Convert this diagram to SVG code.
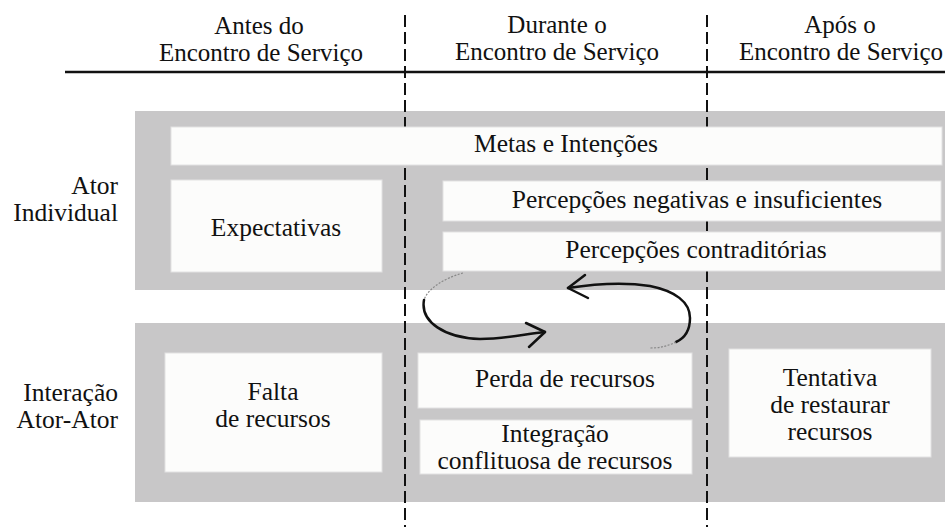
<svg xmlns="http://www.w3.org/2000/svg" width="945" height="527" viewBox="0 0 945 527">
<style>
text{font-family:"Liberation Serif","Times New Roman",serif;font-size:25.5px;fill:#111;text-anchor:middle}
.hdr{font-size:25px}
.band{fill:#c8c7c8}
.box{fill:#fcfcfb;stroke:#e2e2e2;stroke-width:1}
.dash{stroke:#111;stroke-width:2;stroke-dasharray:12 5;fill:none}
.loop{fill:none;stroke:#111;stroke-width:2.5;stroke-linecap:round;stroke-linejoin:round}
.faint{fill:none;stroke:#888;stroke-width:1.2;stroke-dasharray:2 1.5}
.lbl{text-anchor:end}
</style>
<rect width="945" height="527" fill="#ffffff"/>
<g id="bands">
<rect class="band" x="135" y="111" width="810" height="179"/>
<rect class="band" x="135" y="323" width="810" height="179"/>
</g>
<g id="dividers">
<line class="dash" x1="405" y1="15" x2="405" y2="527"/>
<line class="dash" x1="707" y1="15" x2="707" y2="527"/>
<line x1="65" y1="72" x2="945" y2="72" stroke="#111" stroke-width="2.5"/>
</g>
<g id="headers">
<text class="hdr" x="259" y="34">Antes do</text>
<text class="hdr" x="261" y="61">Encontro de Serviço</text>
<text class="hdr" x="557" y="33">Durante o</text>
<text class="hdr" x="557" y="60">Encontro de Serviço</text>
<text class="hdr" x="840" y="33">Após o</text>
<text class="hdr" x="841" y="60">Encontro de Serviço</text>
</g>
<g id="row-labels">
<text class="lbl" x="118" y="194">Ator</text>
<text class="lbl" x="118" y="221">Individual</text>
<text class="lbl" x="118" y="401">Interação</text>
<text class="lbl" x="118" y="428">Ator-Ator</text>
</g>
<g id="metas">
<rect class="box" x="171" y="127" width="771" height="38"/>
<text x="566" y="152">Metas e Intenções</text>
</g>
<g id="expectativas">
<rect class="box" x="171" y="180" width="211" height="92"/>
<text x="276" y="236">Expectativas</text>
</g>
<g id="percepcoes-negativas">
<rect class="box" x="443" y="181" width="498" height="40"/>
<text x="697" y="208">Percepções negativas e insuficientes</text>
</g>
<g id="percepcoes-contraditorias">
<rect class="box" x="443" y="232" width="498" height="39"/>
<text x="696" y="258">Percepções contraditórias</text>
</g>
<g id="falta">
<rect class="box" x="165" y="353" width="217" height="119"/>
<text x="273" y="400">Falta</text>
<text x="273" y="427">de recursos</text>
</g>
<g id="perda">
<rect class="box" x="418" y="353" width="274" height="55"/>
<text x="565" y="387">Perda de recursos</text>
</g>
<g id="integracao">
<rect class="box" x="420" y="420" width="272" height="54"/>
<text x="555" y="442">Integração</text>
<text x="555" y="469">conflituosa de recursos</text>
</g>
<g id="tentativa">
<rect class="box" x="729" y="349" width="202" height="108"/>
<text x="830" y="386">Tentativa</text>
<text x="830" y="413">de restaurar</text>
<text x="830" y="440">recursos</text>
</g>
<g id="connectors">
<path class="faint" d="M463,273 C445,278 428,288 424,300"/>
<path class="loop" d="M424,300 C420,322 445,338 480,339 C505,339 525,334 545,332"/>
<path class="loop" d="M526,323 L545,332 L529,347"/>
<path class="loop" d="M568,288 C600,283 625,282 650,286 C675,291 690,302 690,318 C690,330 685,338 676,342"/>
<path class="faint" d="M676,342 C668,346 660,348 650,348"/>
<path class="loop" d="M585,275 L568,288 L588,298"/>
</g>
</svg>
